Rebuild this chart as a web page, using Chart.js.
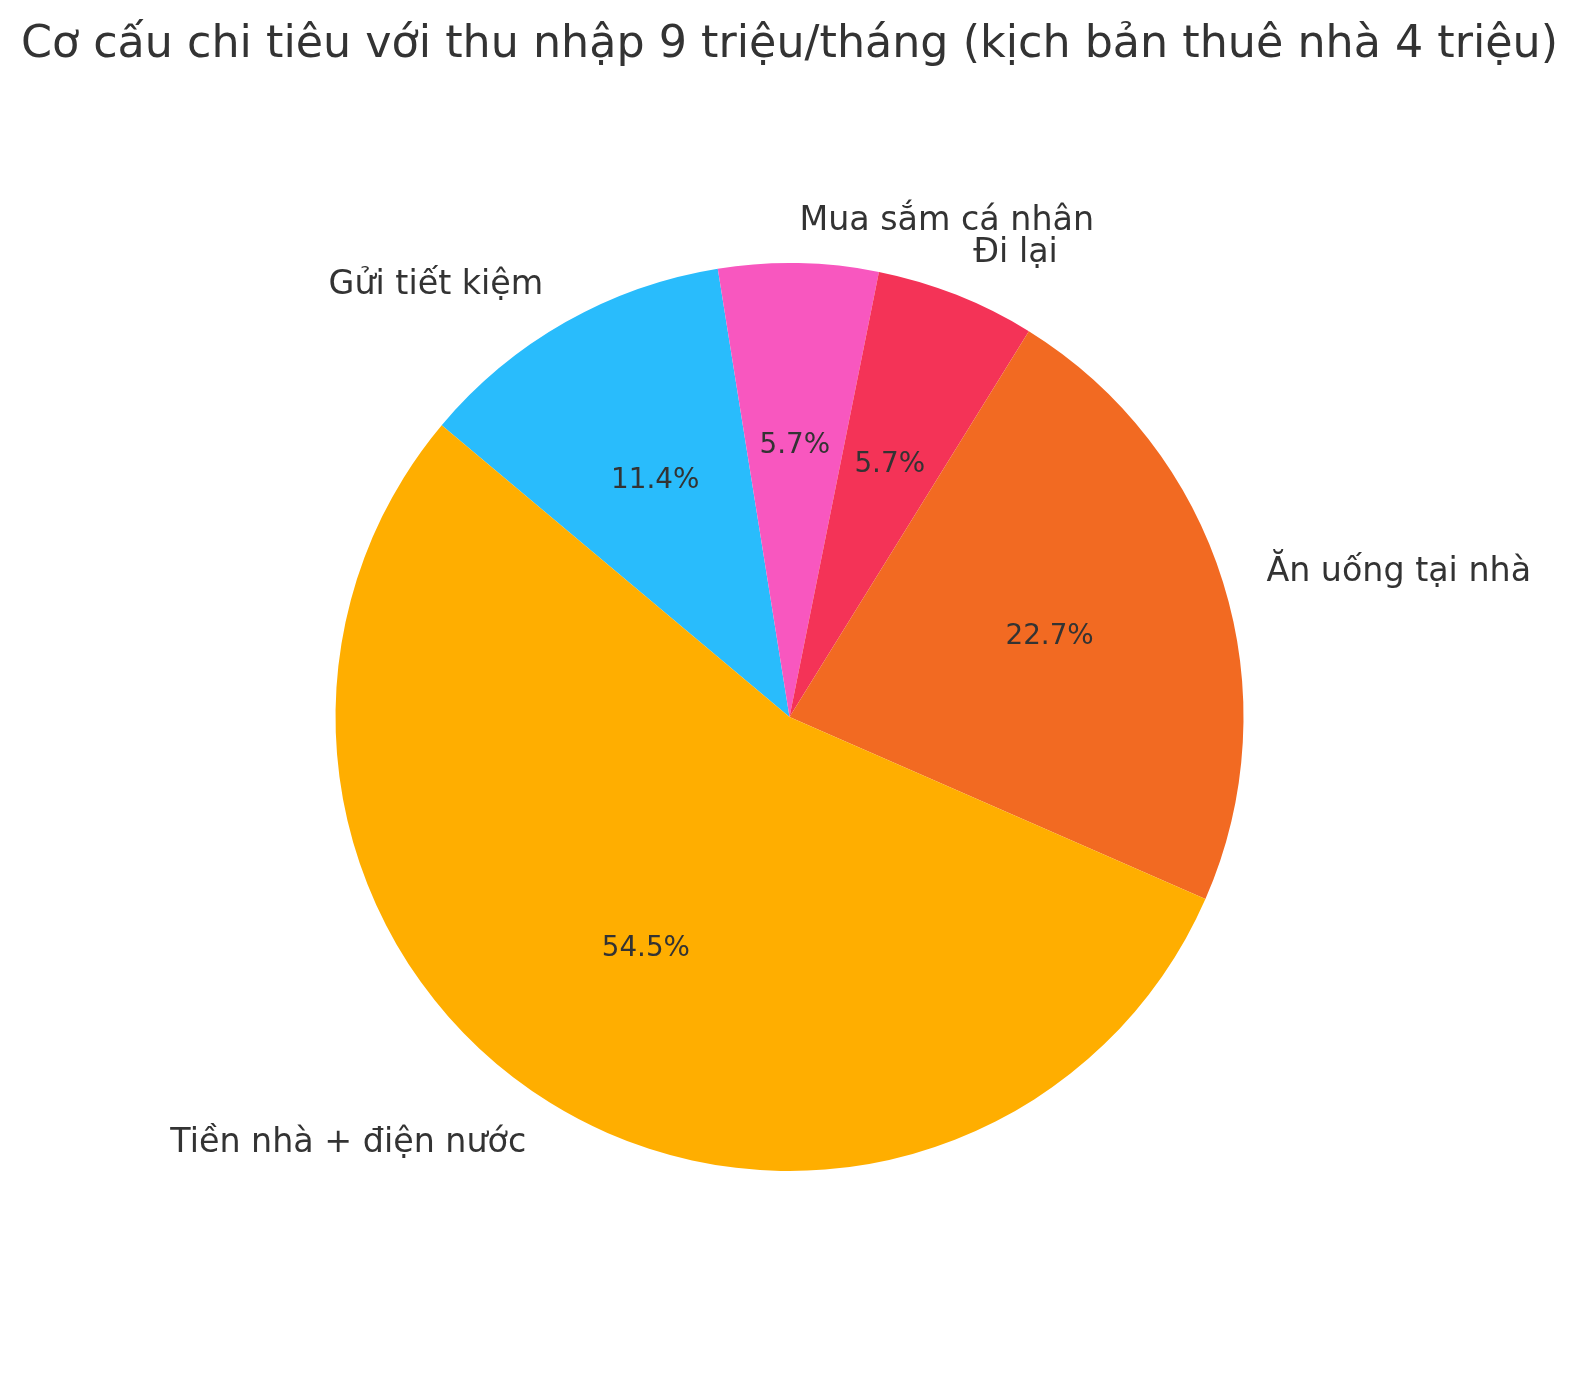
<!DOCTYPE html>
<html>
<head>
<meta charset="utf-8">
<script src="https://cdn.jsdelivr.net/npm/chart.js@4"></script>
<style>
  html, body { margin: 0; padding: 0; background: #fff; overflow: hidden; }
  canvas { display: block; }
</style>
</head>
<body>
<canvas id="myChart" width="1579" height="1380"></canvas>
<script>
"use strict"

// DATA (million VND / month), clockwise order from the top-left slice
const labels = ['Gửi tiết kiệm', 'Mua sắm cá nhân', 'Đi lại', 'Ăn uống tại nhà', 'Tiền nhà + điện nước'];
const values = [1.0, 0.5, 0.5, 2.0, 4.8];
const colors = ['#29BCFC', '#F857BF', '#F43357', '#F26A22', '#FFAE00'];
const titleText = 'Cơ cấu chi tiêu với thu nhập 9 triệu/tháng (kịch bản thuê nhà 4 triệu)';

const textColor = '#333333';
const fontFamily = '"DejaVu Sans", sans-serif';

// vertical centre like matplotlib: box of the text, at least as tall as "lp"
function drawCentered(ctx, text, x, y) {
    const m = ctx.measureText(text);
    const lp = ctx.measureText('lp');
    const a = Math.max(m.actualBoundingBoxAscent, lp.actualBoundingBoxAscent);
    const d = Math.max(m.actualBoundingBoxDescent, lp.actualBoundingBoxDescent);
    ctx.fillText(text, x, y + (a - d) / 2);
}

// labels outside the pie and percents inside
const pieLabels = {
    id: 'pieLabels',
    afterDatasetsDraw(chart) {
        const ctx = chart.ctx;
        const arcs = chart.getDatasetMeta(0).data;
        const total = values.reduce((a, b) => a + b, 0);
        ctx.save();
        ctx.fillStyle = textColor;
        ctx.textBaseline = 'alphabetic';
        arcs.forEach((arc, i) => {
            const mid = (arc.startAngle + arc.endAngle) / 2;
            const r = arc.outerRadius;
            // category label at 1.1 r
            ctx.font = '33.3px ' + fontFamily;
            ctx.textAlign = Math.cos(mid) >= 0 ? 'left' : 'right';
            drawCentered(ctx, labels[i],
                arc.x + 1.1 * r * Math.cos(mid),
                arc.y + 1.1 * r * Math.sin(mid));
            // percent at 0.6 r
            ctx.font = '27.8px ' + fontFamily;
            ctx.textAlign = 'center';
            drawCentered(ctx, (values[i] / total * 100).toFixed(1) + '%',
                arc.x + 0.6 * r * Math.cos(mid),
                arc.y + 0.6 * r * Math.sin(mid));
        });
        // title
        ctx.font = '44.4px ' + fontFamily;
        ctx.textAlign = 'center';
        ctx.fillText(titleText, chart.width / 2, 57);
        ctx.restore();
    }
};

const data = {
    labels: labels,
    datasets: [{
        data: values,
        backgroundColor: colors,
        borderWidth: 0,
        hoverBorderWidth: 0,
        hoverOffset: 0
    }]
};

const config = {
    type: 'pie',
    data: data,
    options: {
        responsive: false,
        animation: false,
        devicePixelRatio: 1,
        rotation: -50,
        events: [],
        layout: {
            padding: { left: 335.5, right: 335.5, top: 263, bottom: 209 }
        },
        plugins: {
            legend: { display: false },
            tooltip: { enabled: false },
            title: { display: false }
        }
    },
    plugins: [pieLabels]
};

const myChart = new Chart(document.getElementById('myChart'), config);
</script>
</body>
</html>
